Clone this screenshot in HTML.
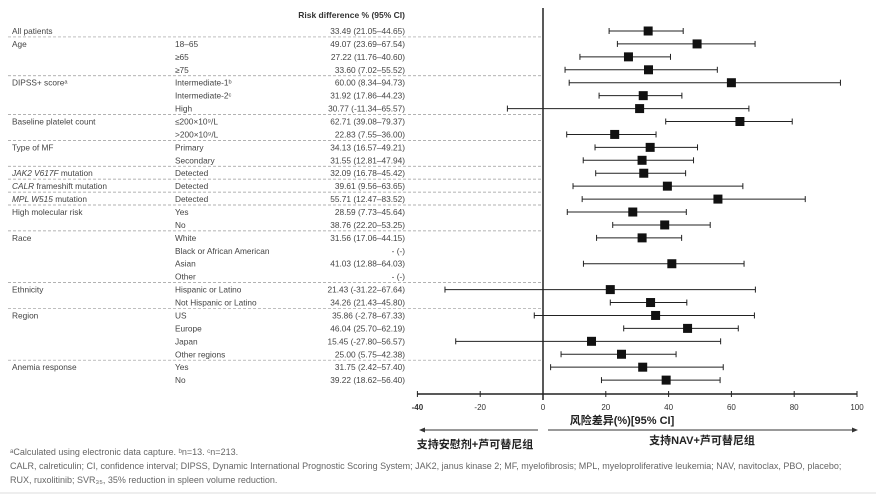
<!DOCTYPE html>
<html><head><meta charset="utf-8">
<style>
body{margin:0;background:#fff;}
svg{display:block;font-family:"Liberation Sans","Noto Sans CJK SC",sans-serif;}
</style></head><body>
<svg id="chart" width="876" height="495" viewBox="0 0 876 495" xmlns="http://www.w3.org/2000/svg">
<text x="405" y="18" text-anchor="end" font-size="8.5" font-weight="bold" fill="#333">Risk difference % (95% CI)</text>
<g id="rows"></g>
<g id="marks"></g>
<g id="axis"></g>
<line x1="543" y1="8" x2="543" y2="400" stroke="#222" stroke-width="1.5"/>
<text x="622" y="424" text-anchor="middle" font-size="11" font-weight="bold" fill="#222">风险差异(%)[95% CI]</text>
<g>
<line x1="422" y1="430" x2="538" y2="430" stroke="#333" stroke-width="1"/>
<polygon points="419,430 425,427.5 425,432.5" fill="#333"/>
</g>
<g>
<line x1="548" y1="430" x2="854" y2="430" stroke="#333" stroke-width="1"/>
<polygon points="858,430 852,427.5 852,432.5" fill="#333"/>
</g>
<text x="475" y="448" text-anchor="middle" font-size="11" font-weight="bold" fill="#222">支持安慰剂+芦可替尼组</text>
<text x="702" y="444" text-anchor="middle" font-size="11" font-weight="bold" fill="#222">支持NAV+芦可替尼组</text>
<g font-size="9" fill="#666">
<text x="10" y="455">ᵃCalculated using electronic data capture. ᵇn=13. ᶜn=213.</text>
<text x="10" y="469">CALR, calreticulin; CI, confidence interval; DIPSS, Dynamic International Prognostic Scoring System; JAK2, janus kinase 2; MF, myelofibrosis; MPL, myeloproliferative leukemia; NAV, navitoclax, PBO, placebo;</text>
<text x="10" y="483">RUX, ruxolitinib; SVR₃₅, 35% reduction in spleen volume reduction.</text>
</g>
<line x1="0" y1="493" x2="876" y2="493" stroke="#ddd"/>
<script>
const groups=["All patients","Age","","","DIPSS+ scoreᵃ","","","Baseline platelet count","","Type of MF","","JAK2 V617F mutation","CALR frameshift mutation","MPL W515 mutation","High molecular risk","","Race","","","","Ethnicity","","Region","","","","Anemia response",""];
const subgroups=["","18–65","≥65","≥75","Intermediate-1ᵇ","Intermediate-2ᶜ","High","≤200×10⁹/L",">200×10⁹/L","Primary","Secondary","Detected","Detected","Detected","Yes","No","White","Black or African American","Asian","Other","Hispanic or Latino","Not Hispanic or Latino","US","Europe","Japan","Other regions","Yes","No"];
const est=[33.49,49.07,27.22,33.60,60.00,31.92,30.77,62.71,22.83,34.13,31.55,32.09,39.61,55.71,28.59,38.76,31.56,null,41.03,null,21.43,34.26,35.86,46.04,15.45,25.00,31.75,39.22];
const lo=[21.05,23.69,11.76,7.02,8.34,17.86,-11.34,39.08,7.55,16.57,12.81,16.78,9.56,12.47,7.73,22.20,17.06,null,12.88,null,-31.22,21.43,-2.78,25.70,-27.80,5.75,2.42,18.62];
const hi=[44.65,67.54,40.60,55.52,94.73,44.23,65.57,79.37,36.00,49.21,47.94,45.42,63.65,83.52,45.64,53.25,44.15,null,64.03,null,67.64,45.80,67.33,62.19,56.57,42.38,57.40,56.40];
const ticks=[-40,-20,0,20,40,60,80,100];
const NS="http://www.w3.org/2000/svg";
const x=v=>543+(v-0)*3.14;
const y=i=>31+i*12.93;
const fmt=v=>v.toFixed(2);
function mk(tag,attrs,parent,text){const e=document.createElementNS(NS,tag);for(const k in attrs)e.setAttribute(k,attrs[k]);if(text!=null)e.textContent=text;parent.appendChild(e);return e;}
const rows=document.getElementById('rows'),marks=document.getElementById('marks'),axis=document.getElementById('axis');
groups.forEach((g,i)=>{
  if(g&&i>0){const l=mk('line',{x1:8,x2:543,y1:y(i)-7,y2:y(i)-7,stroke:'#999','stroke-dasharray':'3,2','stroke-width':0.7},rows);
    
    }
  const it=(g.startsWith('JAK2')||g.startsWith('CALR')||g.startsWith('MPL'));
  if(g){const t=mk('text',{x:12,y:y(i)+3,'font-size':8.3,fill:'#444'},rows);
    
    
    if(it){const p=g.split(' ');const n=g.startsWith('CALR')?1:2;mk('tspan',{'font-style':'italic'},t,p.slice(0,n).join(' '));mk('tspan',{},t,' '+p.slice(n).join(' '));}else t.textContent=g;}
  if(subgroups[i]){const t=mk('text',{x:175,y:y(i)+3,'font-size':8.3,fill:'#444'},rows,subgroups[i]);
    
    }
  const s=est[i]==null?'- (-)':fmt(est[i])+' ('+fmt(lo[i])+'–'+fmt(hi[i])+')';
  const t=mk('text',{x:405,y:y(i)+3,'font-size':8.3,fill:'#444','text-anchor':'end'},rows,s);
  
  
  if(est[i]!=null){
    const g2=mk('g',{},marks);
    
    
    mk('line',{x1:x(lo[i]),x2:x(hi[i]),y1:y(i),y2:y(i),stroke:'#222','stroke-width':1},g2);
    mk('line',{x1:x(lo[i]),x2:x(lo[i]),y1:y(i)-3,y2:y(i)+3,stroke:'#222'},g2);
    mk('line',{x1:x(hi[i]),x2:x(hi[i]),y1:y(i)-3,y2:y(i)+3,stroke:'#222'},g2);
    const r=mk('rect',{x:x(est[i])-4.5,y:y(i)-4.5,width:9,height:9,fill:'#111'},g2);
    
    
  }
});
const al=mk('line',{x1:x(-40),x2:x(100),y1:394,y2:394,stroke:'#222','stroke-width':1.5},axis);


ticks.forEach(v=>{
  mk('line',{x1:x(v),x2:x(v),y1:391,y2:397,stroke:'#222'},axis);
  const t=mk('text',{x:x(v),y:410,'font-size':8,'text-anchor':'middle',fill:'#333','font-weight':v==-40?'bold':'normal'},axis,String(v));
  
  
});
</script>
</svg>
</body></html>
